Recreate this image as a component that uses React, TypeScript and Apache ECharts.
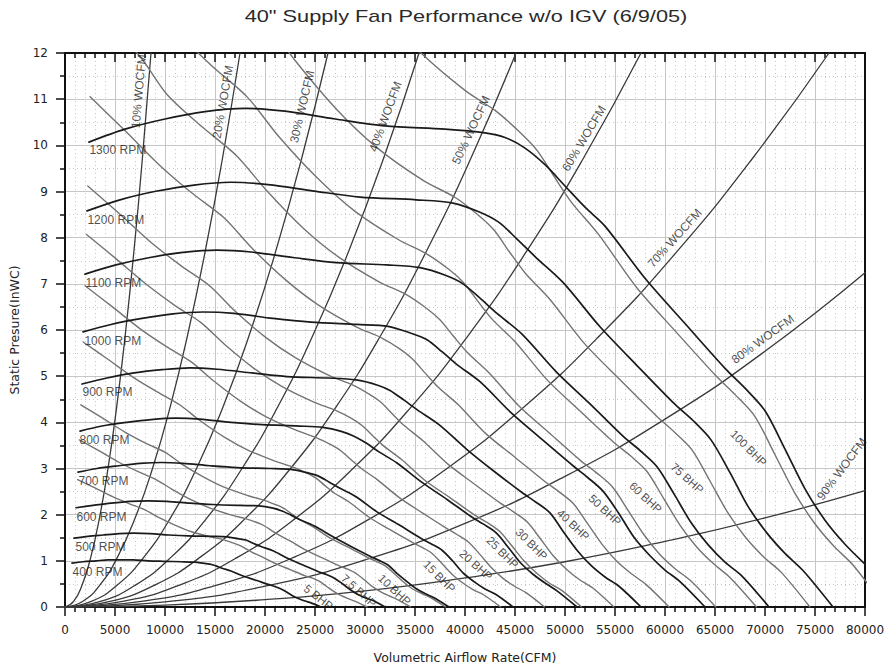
import React, { useEffect, useRef } from "react";
import * as echarts from "echarts";

const TITLE = '40" Supply Fan Performance w/o IGV (6/9/05)';
const X_NAME = "Volumetric Airflow Rate(CFM)";
const Y_NAME = "Static Presure(InWC)";

// ---- RPM curves [CFM, inWC] ----
const rpm1300 = [[2400,10.07],[6000,10.35],[10000,10.57],[14000,10.73],[18000,10.80],[22000,10.74],[27000,10.57],[32000,10.42],[38000,10.35],[42000,10.27],[44000,10.17],[46000,9.94],[48000,9.58],[50000,9.12],[52000,8.66],[54000,8.25],[58000,7.12],[62000,6.14],[66000,5.17],[68000,4.74],[70000,4.25],[72000,3.42],[74000,2.56],[76000,1.88],[78000,1.36],[80000,0.93]];
const rpm1200 = [[2200,8.58],[5500,8.82],[9200,9.01],[12900,9.14],[16600,9.20],[20300,9.15],[24900,9.01],[29500,8.88],[35100,8.82],[38800,8.75],[41500,8.55],[43400,8.33],[45200,7.97],[47100,7.57],[49800,7.03],[53500,6.07],[57200,5.23],[60900,4.41],[62800,4.04],[64600,3.62],[66500,2.91],[68300,2.18],[70200,1.60],[72000,1.16],[73800,0.79],[76800,0]];
const rpm1100 = [[2000,7.21],[5100,7.41],[8500,7.57],[11800,7.68],[15200,7.73],[18600,7.69],[22800,7.57],[27100,7.46],[32200,7.41],[35500,7.35],[38100,7.18],[39800,7.00],[41500,6.69],[43200,6.36],[45700,5.91],[49100,5.10],[52500,4.40],[55800,3.70],[57500,3.39],[59200,3.04],[60900,2.45],[62600,1.83],[64300,1.35],[66000,0.97],[67700,0.67],[70400,0]];
const rpm1000 = [[1800,5.96],[4600,6.12],[7700,6.25],[10800,6.35],[13800,6.39],[16900,6.36],[20800,6.25],[24600,6.17],[29200,6.12],[32300,6.08],[34600,5.93],[36200,5.79],[37700,5.53],[39200,5.25],[41500,4.88],[44600,4.21],[47700,3.63],[50800,3.06],[52300,2.80],[53800,2.51],[55400,2.02],[56900,1.51],[58500,1.11],[60000,0.80],[61500,0.55],[64000,0]];
const rpm900 = [[1700,4.83],[4200,4.96],[6900,5.07],[9700,5.14],[12500,5.18],[15200,5.15],[18700,5.07],[22200,4.99],[26300,4.96],[29100,4.92],[31200,4.81],[32500,4.69],[33900,4.48],[35300,4.26],[37400,3.95],[40200,3.41],[42900,2.94],[45700,2.48],[47100,2.27],[48500,2.04],[49800,1.64],[51200,1.23],[52600,0.90],[54000,0.65],[55400,0.45],[57600,0]];
const rpm800 = [[1500,3.81],[3700,3.92],[6200,4.00],[8600,4.06],[11100,4.09],[13500,4.07],[16600,4.00],[19700,3.95],[23400,3.92],[25800,3.89],[27700,3.80],[28900,3.70],[30200,3.54],[31400,3.36],[33200,3.12],[35700,2.70],[38200,2.33],[40600,1.96],[41800,1.80],[43100,1.61],[44300,1.30],[45500,0.97],[46800,0.71],[48000,0.52],[49200,0.35],[51200,0]];
const rpm700 = [[1300,2.92],[3200,3.00],[5400,3.06],[7500,3.11],[9700,3.13],[11800,3.11],[14500,3.06],[17200,3.02],[20500,3.00],[22600,2.98],[24200,2.91],[25300,2.84],[26400,2.71],[27500,2.57],[29100,2.39],[31200,2.06],[33400,1.78],[35500,1.50],[36600,1.37],[37700,1.23],[38800,0.99],[39800,0.74],[40900,0.55],[42000,0.39],[43100,0.27],[44800,0]];
const rpm600 = [[1100,2.15],[2800,2.20],[4600,2.25],[6500,2.29],[8300,2.30],[10200,2.29],[12500,2.25],[14800,2.22],[17500,2.20],[19400,2.19],[20800,2.14],[21700,2.08],[22600,1.99],[23500,1.89],[24900,1.76],[26800,1.52],[28600,1.31],[30500,1.10],[31400,1.01],[32300,0.91],[33200,0.73],[34200,0.55],[35100,0.40],[36000,0.29],[36900,0.20],[38400,0]];
const rpm500 = [[900,1.49],[2300,1.53],[3800,1.56],[5400,1.59],[6900,1.60],[8500,1.59],[10400,1.56],[12300,1.54],[14600,1.53],[16200,1.52],[17300,1.48],[18100,1.45],[18800,1.38],[19600,1.31],[20800,1.22],[22300,1.05],[23800,0.91],[25400,0.76],[26200,0.70],[26900,0.63],[27700,0.51],[28500,0.38],[29200,0.28],[30000,0.20],[30800,0.14],[32000,0]];
const rpm400 = [[700,0.95],[1800,0.98],[3100,1.00],[4300,1.02],[5500,1.02],[6800,1.02],[8300,1.00],[9800,0.99],[11700,0.98],[12900,0.97],[13800,0.95],[14500,0.93],[15100,0.89],[15700,0.84],[16600,0.78],[17800,0.67],[19100,0.58],[20300,0.49],[20900,0.45],[21500,0.40],[22200,0.32],[22800,0.24],[23400,0.18],[24000,0.13],[24600,0.09],[25600,0]];

const RPM_NAMES = ["400 RPM","500 RPM","600 RPM","700 RPM","800 RPM","900 RPM","1000 RPM","1100 RPM","1200 RPM","1300 RPM"];
const RPM_CURVES = [rpm400,rpm500,rpm600,rpm700,rpm800,rpm900,rpm1000,rpm1100,rpm1200,rpm1300];
const RPM_LABEL_AT = [[698,0.76],[998,1.29],[1097,1.94],[1297,2.72],[1397,3.62],[1696,4.65],[1895,5.77],[1995,7.02],[2195,8.38],[2394,9.90]];

// ---- BHP curves ----
const bhp5 = [[1260,2.76],[3000,2.58],[4760,2.39],[6390,2.24],[7950,2.11],[9360,1.94],[11050,1.77],[12670,1.63],[14550,1.52],[15820,1.46],[16780,1.39],[17400,1.34],[18020,1.27],[18670,1.19],[19670,1.09],[21060,0.94],[22510,0.81],[23960,0.68],[24690,0.63],[25410,0.56],[26140,0.45],[26870,0.34],[27590,0.25],[28320,0.18],[29040,0.12],[30210,0]];
const bhp7_5 = [[1440,3.62],[3430,3.38],[5440,3.13],[7320,2.93],[9100,2.76],[10710,2.55],[12650,2.32],[14510,2.14],[16660,1.99],[18110,1.91],[19200,1.83],[19920,1.76],[20630,1.66],[21370,1.56],[22510,1.43],[24100,1.23],[25770,1.06],[27430,0.89],[28260,0.82],[29090,0.73],[29920,0.59],[30750,0.44],[31580,0.33],[32420,0.24],[33250,0.16],[34580,0]];
const bhp10 = [[1580,4.38],[3770,4.09],[5990,3.79],[8060,3.55],[10020,3.35],[11790,3.08],[13920,2.81],[15970,2.59],[18340,2.41],[19940,2.31],[21140,2.21],[21930,2.13],[22710,2.01],[23520,1.89],[24780,1.74],[26530,1.49],[28360,1.29],[30190,1.08],[31100,0.99],[32020,0.89],[32930,0.72],[33850,0.54],[34760,0.39],[35680,0.29],[36590,0.20],[38060,0]];
const bhp15 = [[1810,5.74],[4320,5.36],[6860,4.97],[9220,4.66],[11470,4.38],[13490,4.04],[15930,3.68],[18280,3.40],[20990,3.16],[22820,3.03],[24200,2.90],[25100,2.79],[25990,2.63],[26920,2.47],[28370,2.28],[30370,1.95],[32460,1.68],[34560,1.42],[35610,1.30],[36650,1.17],[37700,0.94],[38750,0.70],[39790,0.52],[40840,0.37],[41890,0.26],[43560,0]];
const bhp20 = [[2000,6.96],[4750,6.50],[7550,6.02],[10150,5.64],[12620,5.31],[14850,4.90],[17540,4.46],[20120,4.12],[23100,3.83],[25120,3.67],[26630,3.51],[27620,3.38],[28610,3.19],[29630,3.00],[31220,2.76],[33430,2.37],[35730,2.04],[38040,1.72],[39190,1.57],[40340,1.41],[41490,1.14],[42650,0.85],[43800,0.62],[44950,0.45],[46100,0.31],[47950,0]];
const bhp25 = [[2150,8.07],[5120,7.54],[8130,6.99],[10930,6.54],[13600,6.16],[16000,5.68],[18890,5.17],[21670,4.78],[24890,4.44],[27060,4.26],[28690,4.08],[29760,3.92],[30820,3.70],[31920,3.48],[33630,3.20],[36010,2.74],[38490,2.37],[40970,1.99],[42220,1.83],[43460,1.64],[44700,1.32],[45940,0.99],[47180,0.73],[48420,0.52],[49670,0.36],[51650,0]];
const bhp30 = [[2280,9.12],[5440,8.52],[8640,7.89],[11620,7.39],[14450,6.96],[17000,6.41],[20070,5.84],[23030,5.40],[26450,5.01],[28750,4.81],[30490,4.60],[31620,4.43],[32750,4.18],[33920,3.93],[35740,3.61],[38260,3.10],[40900,2.67],[43540,2.25],[44860,2.06],[46180,1.85],[47500,1.49],[48820,1.11],[50140,0.82],[51460,0.59],[52780,0.41],[54890,0]];
const bhp40 = [[2510,11.05],[5990,10.32],[9510,9.56],[12790,8.95],[15900,8.43],[18710,7.77],[22090,7.08],[25350,6.54],[29110,6.07],[31650,5.83],[33550,5.58],[34800,5.36],[36040,5.06],[37330,4.76],[39330,4.38],[42110,3.75],[45020,3.24],[47920,2.73],[49370,2.50],[50830,2.24],[52280,1.80],[53730,1.35],[55180,0.99],[56640,0.72],[58090,0.49],[60410,0]];
const bhp50 = [[2710,12.82],[7200,12.0],[10250,11.09],[13770,10.39],[17130,9.78],[20160,9.02],[23800,8.21],[27300,7.59],[31360,7.05],[34090,6.77],[36140,6.47],[37490,6.22],[38830,5.87],[40210,5.52],[42370,5.08],[45370,4.36],[48490,3.76],[51620,3.16],[53190,2.90],[54750,2.60],[56320,2.09],[57880,1.57],[59440,1.15],[61010,0.83],[62570,0.57],[65080,0]];
const bhp60 = [[6860,13.52],[10890,12.53],[14640,11.73],[18210,11.05],[21420,10.18],[25290,9.28],[29010,8.57],[33320,7.96],[36230,7.64],[38410,7.31],[39840,7.03],[41260,6.63],[42730,6.23],[45030,5.74],[48210,4.92],[51530,4.24],[54860,3.57],[56520,3.28],[58180,2.94],[59840,2.36],[61510,1.77],[63170,1.30],[64830,0.94],[66490,0.64],[69150,0]];
const bhp75 = [[15770,13.61],[19610,12.82],[23070,11.82],[27240,10.76],[31250,9.94],[35890,9.23],[39030,8.87],[41370,8.48],[42920,8.16],[44450,7.69],[46030,7.23],[48500,6.66],[51930,5.71],[55510,4.92],[59090,4.15],[60880,3.80],[62680,3.41],[64470,2.74],[66260,2.05],[68050,1.51],[69840,1.09],[71630,0.75],[74490,0]];
const bhp100 = [[31000,13.04],[35400,12.04],[40000,11.19],[43100,10.74],[45540,10.27],[47240,9.88],[48920,9.32],[50670,8.76],[53390,8.06],[57160,6.92],[61100,5.96],[65040,5.02],[67010,4.60],[68980,4.13],[70950,3.32],[72930,2.49],[74900,1.83],[76870,1.32],[78840,0.90],[81990,0]];

const BHP_NAMES = ["5 BHP","7.5 BHP","10 BHP","15 BHP","20 BHP","25 BHP","30 BHP","40 BHP","50 BHP","60 BHP","75 BHP","100 BHP"];
const BHP_CURVES = [bhp5,bhp7_5,bhp10,bhp15,bhp20,bhp25,bhp30,bhp40,bhp50,bhp60,bhp75,bhp100];
const BHP_LABEL_AT = [[25340,0.21],[29380,0.35],[32950,0.37],[37440,0.66],[41100,0.91],[43760,1.18],[46660,1.36],[50820,1.78],[53990,2.10],[58060,2.37],[62220,2.79],[68360,3.44]];
const BHP_LABEL_ROT = [-38,-42,-43,-45,-42,-45,-45,-43,-43,-43,-42,-45];

// ---- % wide-open CFM system curves ----
const wo10 = [[0,0],[860,0.12],[1720,0.48],[2580,1.08],[3440,1.92],[4300,3.0],[5160,4.32],[6020,5.88],[6880,7.68],[7740,9.72],[8600,12]];
const wo20 = [[0,0],[1750,0.12],[3500,0.48],[5250,1.08],[7000,1.92],[8750,3.0],[10500,4.32],[12250,5.88],[14000,7.68],[15750,9.72],[17500,12]];
const wo30 = [[0,0],[2630,0.12],[5260,0.48],[7890,1.08],[10520,1.92],[13150,3.0],[15780,4.32],[18410,5.88],[21040,7.68],[23670,9.72],[26300,12]];
const wo40 = [[0,0],[3540,0.12],[7080,0.48],[10620,1.08],[14160,1.92],[17700,3.0],[21240,4.32],[24780,5.88],[28320,7.68],[31860,9.72],[35400,12]];
const wo50 = [[0,0],[4510,0.12],[9020,0.48],[13530,1.08],[18040,1.92],[22550,3.0],[27060,4.32],[31570,5.88],[36080,7.68],[40590,9.72],[45100,12]];
const wo60 = [[0,0],[5760,0.12],[11520,0.48],[17280,1.08],[23040,1.92],[28800,3.0],[34560,4.32],[40320,5.88],[46080,7.68],[51840,9.72],[57600,12]];
const wo70 = [[0,0],[7640,0.12],[15280,0.48],[22920,1.08],[30560,1.92],[38200,3.0],[45840,4.32],[53480,5.88],[61120,7.68],[68760,9.72],[76400,12]];
const wo80 = [[0,0],[10000,0.11],[20000,0.45],[30000,1.02],[40000,1.81],[50000,2.83],[60000,4.07],[70000,5.54],[80000,7.24]];
const wo90 = [[0,0],[10000,0.04],[20000,0.16],[30000,0.35],[40000,0.63],[50000,0.98],[60000,1.42],[70000,1.93],[80000,2.52]];

const WO_NAMES = ["10% WOCFM","20% WOCFM","30% WOCFM","40% WOCFM","50% WOCFM","60% WOCFM","70% WOCFM","80% WOCFM","90% WOCFM"];
const WO_CURVES = [wo10,wo20,wo30,wo40,wo50,wo60,wo70,wo80,wo90];
const WO_LABEL_AT = [[7382,11.17],[15790,10.94],[23720,10.84],[32040,10.62],[40600,10.33],[51900,10.15],[60970,7.99],[69780,5.80],[77680,2.99]];
const WO_LABEL_ROT = [85,80,77,70,65,59,48,36,53];

const X_TICKS = { min: 0, max: 80000, interval: 5000 };
const Y_TICKS = { min: 0, max: 12, interval: 1 };

const FONT = "Arial, 'Liberation Sans', sans-serif";
const AXFONT = "'DejaVu Sans', sans-serif";

function lineSeries(name: string, data: number[][], color: string, width: number, z: number, smooth: number | boolean) {
  return {
    type: "line",
    name,
    data,
    symbol: "none",
    showSymbol: false,
    smooth,
    clip: true,
    silent: true,
    z,
    lineStyle: { color, width, cap: "round", join: "round" },
  };
}

function buildOption() {
  const series: any[] = [];
  WO_CURVES.forEach((d, i) => series.push(lineSeries(WO_NAMES[i], d, "#3a3a3a", 1.3, 2, true)));
  BHP_CURVES.forEach((d, i) => series.push(lineSeries(BHP_NAMES[i], d, "#747474", 1.4, 3, 0.3)));
  RPM_CURVES.forEach((d, i) => series.push(lineSeries(RPM_NAMES[i], d, "#1a1a1a", 1.7, 4, 0.3)));

  const common = { show: true, fontFamily: FONT, color: "#1e1e1e", textBorderWidth: 0 };
  const labelItems: any[] = [];
  RPM_NAMES.forEach((n, i) =>
    labelItems.push({
      value: RPM_LABEL_AT[i],
      label: { ...common, formatter: n, position: "right", distance: 0, fontSize: 12 },
    })
  );
  WO_NAMES.forEach((n, i) =>
    labelItems.push({
      value: WO_LABEL_AT[i],
      label: { ...common, formatter: n, position: "inside", rotate: WO_LABEL_ROT[i], fontSize: 12 },
    })
  );
  BHP_NAMES.forEach((n, i) =>
    labelItems.push({
      value: BHP_LABEL_AT[i],
      label: { ...common, formatter: n, position: "inside", rotate: BHP_LABEL_ROT[i], fontSize: 11.5 },
    })
  );
  series.push({
    type: "scatter",
    name: "labels",
    data: labelItems,
    symbolSize: 1,
    itemStyle: { color: "rgba(0,0,0,0)" },
    silent: true,
    z: 10,
  });

  const axisLineStyle = { color: "#111", width: 2 };
  const tickStyle = { color: "#111", width: 1.5 };

  return {
    animation: false,
    backgroundColor: "#ffffff",
    graphic: [
      {
        type: "text",
        x: 466,
        y: 17,
        scaleX: 1.36,
        style: {
          text: TITLE,
          fontSize: 16,
          fontFamily: FONT,
          fill: "#2a2a2a",
          textAlign: "center",
          textVerticalAlign: "middle",
          align: "center",
          verticalAlign: "middle",
        },
      },
    ],
    grid: { left: 63, right: 23, top: 53, bottom: 62, containLabel: false },
    xAxis: [
      {
        type: "value",
        ...X_TICKS,
        position: "bottom",
        name: X_NAME,
        nameLocation: "middle",
        nameGap: 44,
        nameTextStyle: { fontSize: 12.5, fontFamily: AXFONT, color: "#222" },
        axisLine: { show: true, onZero: false, lineStyle: axisLineStyle },
        axisTick: { show: true, inside: false, length: 9, lineStyle: tickStyle },
        minorTick: { show: true, splitNumber: 5, length: 5, lineStyle: tickStyle },
        axisLabel: { margin: 17, fontSize: 12, fontFamily: AXFONT, color: "#222", formatter: (v: number) => String(v) },
        splitLine: { show: true, lineStyle: { color: "#c6c6c6", width: 1 } },
        minorSplitLine: { show: true, lineStyle: { color: "#c8c8c8", width: 1, type: [1, 3] } },
      },
      {
        type: "value",
        ...X_TICKS,
        position: "top",
        axisLine: { show: true, onZero: false, lineStyle: axisLineStyle },
        axisTick: { show: true, inside: true, length: 9, lineStyle: tickStyle },
        minorTick: { show: true, splitNumber: 5, length: 5, lineStyle: tickStyle },
        axisLabel: { show: false },
        splitLine: { show: false },
        minorSplitLine: { show: false },
      },
    ],
    yAxis: [
      {
        type: "value",
        ...Y_TICKS,
        position: "left",
        name: Y_NAME,
        nameLocation: "middle",
        nameRotate: 90,
        nameGap: 44,
        nameTextStyle: { fontSize: 12.5, fontFamily: AXFONT, color: "#222" },
        axisLine: { show: true, onZero: false, lineStyle: axisLineStyle },
        axisTick: { show: true, inside: false, length: 9, lineStyle: tickStyle },
        minorTick: { show: true, splitNumber: 2, length: 5, lineStyle: tickStyle },
        axisLabel: { margin: 17, fontSize: 12, fontFamily: AXFONT, color: "#222" },
        splitLine: { show: true, lineStyle: { color: "#c6c6c6", width: 1 } },
        minorSplitLine: { show: true, lineStyle: { color: "#c8c8c8", width: 1, type: [1, 3] } },
      },
      {
        type: "value",
        ...Y_TICKS,
        position: "right",
        axisLine: { show: true, onZero: false, lineStyle: axisLineStyle },
        axisTick: { show: false },
        axisLabel: { show: false },
        splitLine: { show: false },
      },
    ],
    series,
  };
}

export default function App() {
  const ref = useRef<HTMLDivElement>(null);
  useEffect(() => {
    document.body.style.margin = "0";
    const chart = echarts.init(ref.current as HTMLDivElement, null, { renderer: "svg" });
    chart.setOption(buildOption() as any);
    return () => chart.dispose();
  }, []);
  return <div ref={ref} style={{ width: 888, height: 669 }} />;
}
